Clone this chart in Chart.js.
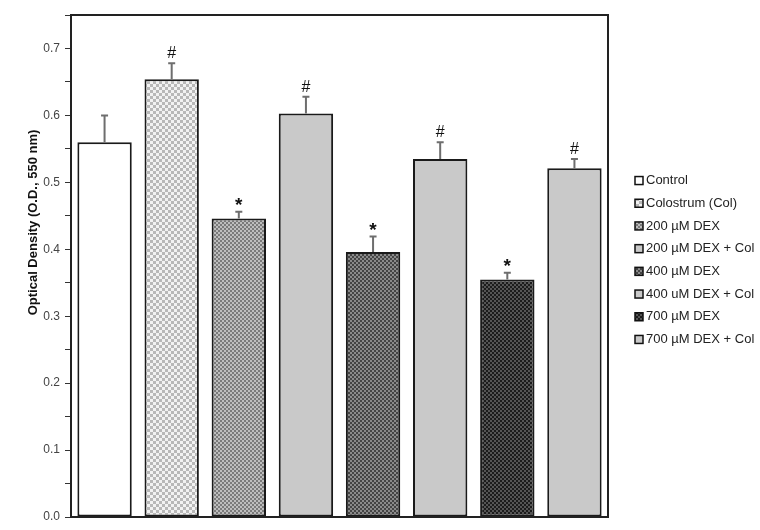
<!DOCTYPE html>
<html>
<head>
<meta charset="utf-8">
<script src="https://cdn.jsdelivr.net/npm/chart.js@4"></script>
<style>
  html, body { margin: 0; padding: 0; background: #fff; overflow: hidden; }
  #wrap { width: 760px; height: 530px; }
</style>
</head>
<body>
<div id="wrap"><canvas id="grafico"></canvas></div>
<script>
const labels = ['Control', 'Colostrum (Col)', '200 µM DEX', '200 µM DEX + Col',
                '400 µM DEX', '400 uM DEX + Col', '700 µM DEX', '700 µM DEX + Col'];
const means = [0.560, 0.654, 0.446, 0.603, 0.396, 0.535, 0.355, 0.521];
const errors = [0.040, 0.024, 0.010, 0.025, 0.023, 0.025, 0.010, 0.014];
const marks = ['', '#', '*', '#', '*', '#', '*', '#'];
const yTitle = 'Optical Density (O.D., 550 nm)';

const FONT = "'Liberation Sans', Arial, sans-serif";

// small checkerboard fills, like the hatch patterns of the original
function checker(a, b, s) {
    const c = document.createElement('canvas');
    c.width = c.height = 2 * s;
    const g = c.getContext('2d');
    g.fillStyle = a;
    g.fillRect(0, 0, 2 * s, 2 * s);
    g.fillStyle = b;
    g.fillRect(0, 0, s, s);
    g.fillRect(s, s, s, s);
    return g.createPattern(c, 'repeat');
}

const fills = [
    '#ffffff',
    checker('#f2f2f2', '#b8b8b8', 3),
    checker('#bdbdbd', '#7a7a7a', 2),
    '#c9c9c9',
    checker('#8a8a8a', '#444444', 2),
    '#c9c9c9',
    checker('#555555', '#1c1c1c', 2),
    '#c9c9c9'
];

// error bars, significance marks, the box round the plot, axis title and legend
const extras = {
    id: 'extras',
    afterDatasetsDraw(chart) {
        const ctx = chart.ctx;
        const y = chart.scales.y;
        const bars = chart.getDatasetMeta(0).data;
        ctx.save();
        bars.forEach((bar, i) => {
            const top = y.getPixelForValue(means[i] + errors[i]);
            ctx.strokeStyle = '#6e6e6e';
            ctx.lineWidth = 2;
            ctx.beginPath();
            ctx.moveTo(bar.x, bar.y);
            ctx.lineTo(bar.x, top);
            ctx.moveTo(bar.x - 3.5, top);
            ctx.lineTo(bar.x + 3.5, top);
            ctx.stroke();
            if (marks[i]) {
                ctx.fillStyle = '#111';
                ctx.textAlign = 'center';
                ctx.textBaseline = 'alphabetic';
                if (marks[i] === '*') {
                    ctx.font = 'bold 19px ' + FONT;
                    ctx.fillText('*', bar.x, top - 1);
                } else {
                    ctx.font = '16px ' + FONT;
                    ctx.fillText('#', bar.x, top - 5);
                }
            }
        });
        const a = chart.chartArea;
        ctx.strokeStyle = '#222';
        ctx.lineWidth = 2;
        ctx.strokeRect(a.left, a.top, a.right - a.left, a.bottom - a.top);

        // y axis title, sitting a little above the middle like the original
        ctx.save();
        ctx.translate(33, y.getPixelForValue(0.44));
        ctx.rotate(-Math.PI / 2);
        ctx.font = 'bold 13px ' + FONT;
        ctx.fillStyle = '#111';
        ctx.textAlign = 'center';
        ctx.textBaseline = 'middle';
        ctx.fillText(yTitle, 0, 0);
        ctx.restore();

        // legend to the right of the box
        const rowH = 22.7;
        const x0 = a.right + 27;
        const y0 = (a.top + a.bottom) / 2 - rowH * (labels.length - 1) / 2 - 6;
        ctx.font = '13px ' + FONT;
        ctx.textAlign = 'left';
        ctx.textBaseline = 'middle';
        labels.forEach((t, i) => {
            const yy = y0 + i * rowH;
            ctx.fillStyle = fills[i];
            ctx.fillRect(x0, yy - 4, 8, 8);
            ctx.strokeStyle = '#111';
            ctx.lineWidth = 1.5;
            ctx.strokeRect(x0, yy - 4, 8, 8);
            ctx.fillStyle = '#222';
            ctx.fillText(t, x0 + 11, yy);
        });
        ctx.restore();
    }
};

const ctx = document.getElementById('grafico').getContext('2d');
new Chart(ctx, {
    type: 'bar',
    data: {
        labels: labels,
        datasets: [{
            data: means,
            backgroundColor: fills,
            borderColor: '#1a1a1a',
            borderWidth: 2,
            borderSkipped: false,
            categoryPercentage: 1,
            barPercentage: 0.81
        }]
    },
    options: {
        responsive: true,
        maintainAspectRatio: false,
        animation: false,
        layout: { padding: { left: 22, top: 15, bottom: 13, right: 152 } },
        plugins: {
            tooltip: { enabled: false },
            legend: { display: false }
        },
        scales: {
            x: { display: false },
            y: {
                min: 0,
                max: 0.75,
                afterFit: (s) => { s.width = 49; },
                border: { display: false },
                grid: { drawOnChartArea: false, tickLength: 6, color: '#333' },
                ticks: {
                    stepSize: 0.05,
                    padding: 5,
                    color: '#444',
                    font: { family: FONT, size: 12 },
                    callback: (v) => {
                        const k = Math.round(v * 100);
                        return k % 10 === 0 ? (k / 100).toFixed(1) : '';
                    }
                }
            }
        }
    },
    plugins: [extras]
});
</script>
</body>
</html>
